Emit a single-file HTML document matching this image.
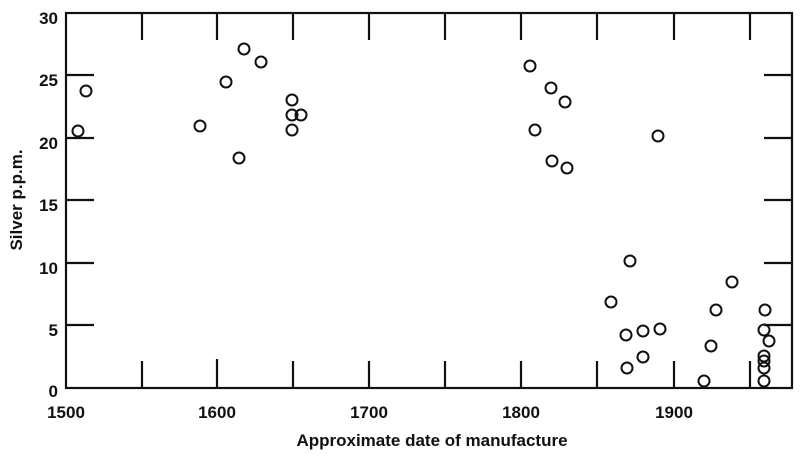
<!DOCTYPE html>
<html><head><style>body{margin:0;background:#fff}svg{display:block}</style></head><body>
<svg width="800" height="459" xmlns="http://www.w3.org/2000/svg" font-family="Liberation Sans, sans-serif" font-weight="bold">
<g stroke="#111" stroke-width="2.2" fill="none">
<rect x="66" y="13" width="726" height="375"/>
<path d="M142,388V361M217,388V359M293,388V361M369,388V361M445,388V361M521,388V361M597,388V361M674,388V361M750,388V361"/>
<path d="M142,13V40M217,13V40M293,13V40M369,13V40M445,13V40M521,13V40M597,13V40M674,13V40M750,13V40"/>
<path d="M66,75H94M66,138H94M66,200H94M66,263H94M66,325H94"/>
<path d="M792,75H764M792,138H764M792,200H764M792,263H764M792,325H764"/>
</g>
<g stroke="#111" stroke-width="2" fill="none">
<circle cx="78" cy="131" r="5.5"/><circle cx="86" cy="91" r="5.5"/><circle cx="200" cy="126" r="5.5"/><circle cx="226" cy="82" r="5.5"/><circle cx="239" cy="158" r="5.5"/><circle cx="244" cy="49" r="5.5"/><circle cx="261" cy="62" r="5.5"/><circle cx="292" cy="100" r="5.5"/><circle cx="292" cy="115" r="5.5"/><circle cx="301" cy="115" r="5.5"/><circle cx="292" cy="130" r="5.5"/>
<circle cx="530" cy="66" r="5.5"/><circle cx="535" cy="130" r="5.5"/><circle cx="551" cy="88" r="5.5"/><circle cx="552" cy="161" r="5.5"/><circle cx="565" cy="102" r="5.5"/><circle cx="567" cy="168" r="5.5"/><circle cx="658" cy="136" r="5.5"/>
<circle cx="630" cy="261" r="5.5"/><circle cx="611" cy="302" r="5.5"/><circle cx="626" cy="335" r="5.5"/><circle cx="643" cy="331" r="5.5"/><circle cx="660" cy="329" r="5.5"/><circle cx="643" cy="357" r="5.5"/><circle cx="627" cy="368" r="5.5"/><circle cx="704" cy="381" r="5.5"/><circle cx="711" cy="346" r="5.5"/><circle cx="716" cy="310" r="5.5"/><circle cx="732" cy="282" r="5.5"/><circle cx="765" cy="310" r="5.5"/><circle cx="764" cy="330" r="5.5"/><circle cx="769" cy="341" r="5.5"/><circle cx="764" cy="356" r="5.5"/><circle cx="764" cy="361" r="5.5"/><circle cx="764" cy="368" r="5.5"/><circle cx="764" cy="381" r="5.5"/>
</g>
<g font-size="17" fill="#111" text-anchor="end">
<text x="58" y="24">30</text><text x="58" y="86">25</text><text x="58" y="149">20</text><text x="58" y="211">15</text><text x="58" y="274">10</text><text x="58" y="336">5</text><text x="58" y="397">0</text>
</g>
<g font-size="17" fill="#111" text-anchor="middle">
<text x="66" y="418">1500</text><text x="217" y="418">1600</text><text x="369" y="418">1700</text><text x="521" y="418">1800</text><text x="674" y="418">1900</text>
<text x="432" y="446">Approximate date of manufacture</text>
<text transform="translate(22,200) rotate(-90)">Silver p.p.m.</text>
</g>
</svg>
</body></html>
